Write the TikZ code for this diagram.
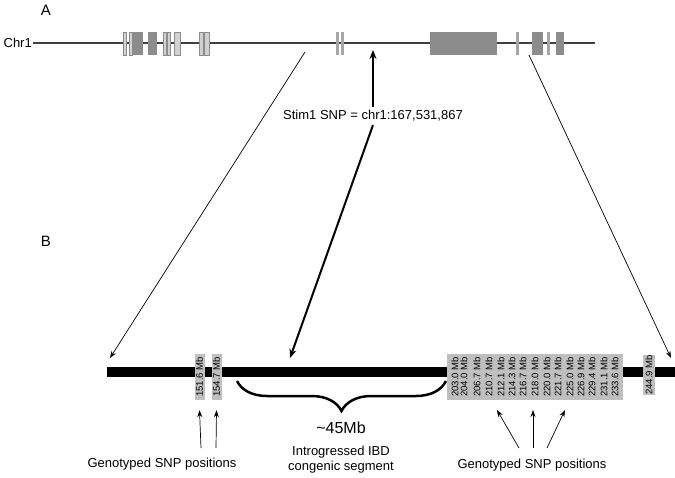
\documentclass[tikz,border=0pt]{standalone}
\usepackage{fontspec}
\setmainfont{Liberation Sans}
\usetikzlibrary{arrows.meta,decorations.pathreplacing}

\begin{document}
\begin{tikzpicture}[
    x=1pt, y=-1pt,
    >=Stealth,
    exonL/.style={fill=black!18, draw=black!45, line width=0.5pt},
    exonM/.style={fill=black!35},
    exonD/.style={fill=black!45},
    mbbox/.style={rotate=90, fill=black!25, inner sep=0pt, minimum width=46pt, minimum height=10pt, font=\fontsize{9.5}{10}\selectfont},
    mbtxt/.style={rotate=90, inner sep=0pt, font=\fontsize{9.5}{10}\selectfont},
    lbl/.style={font=\fontsize{13}{15}\selectfont, align=center},
    zoomline/.style={->, line width=0.7pt, >={Stealth[length=7pt,width=5pt]}},
    snparrow/.style={->, line width=2pt, >={Stealth[length=9pt,width=7pt]}}
]
\useasboundingbox (0,0) rectangle (675,477);

% Panel A: chromosome 1 with gene structure
\node[font=\fontsize{15}{17}\selectfont] (pa) at (46,10) {A};
\node[lbl, anchor=east, inner sep=1pt] (chr) at (33,43) {Chr1};
\draw[black!75, line width=1.3pt] (chr.east) -- (595,43);
% exons (left cluster)
\filldraw[exonL] (123,32) rectangle (126,55);
\filldraw[exonL] (129,32) rectangle (132,55);
\fill[exonD] (133,32) rectangle (143,55);
\fill[exonD] (148,32) rectangle (157,55);
\filldraw[exonL] (163,32) rectangle (166,55);
\filldraw[exonL] (167,32) rectangle (170,55);
\filldraw[exonL] (174,32) rectangle (180,55);
\filldraw[exonL] (199,32) rectangle (203,55);
\filldraw[exonL] (204,32) rectangle (209,55);
% exons (middle)
\fill[exonM] (336,32) rectangle (339,55);
\fill[exonM] (341,32) rectangle (344,55);
% exons (right cluster)
\fill[exonD] (430,32) rectangle (497,55);
\fill[exonM] (516,32) rectangle (519,55);
\fill[exonD] (532,32) rectangle (543,55);
\fill[exonM] (547,32) rectangle (550,55);
\fill[exonD] (556,32) rectangle (564,55);

% SNP label
\node[lbl] (snp) at (373,116) {Stim1 SNP = chr1:167,531,867};
\coordinate (snpTop) at (373,50);
\coordinate (snpBot) at (290,358);

% zoom lines
\coordinate (zl0) at (305,52);
\coordinate (zr0) at (529,55);
\coordinate (zl1) at (110,358);
\coordinate (zr1) at (671,358);
\draw[zoomline] (zl0) -- (zl1);
\draw[zoomline] (zr0) -- (zr1);
\draw[snparrow] (snp.north) -- (snpTop);
\draw[snparrow] (snp.south) -- (snpBot);

% Panel B: congenic segment
\node[font=\fontsize{15}{17}\selectfont] (pb) at (46,241) {B};
\node[fill=black, inner sep=0pt, minimum width=568pt, minimum height=10pt, anchor=west] (bar) at (107,372) {};

% single SNP markers
\node[mbbox] (m1) at (199.5,377) {151.6 Mb};
\node[mbbox] (m2) at (216.5,377) {154.7 Mb};
\node[mbbox, minimum width=40pt, minimum height=12pt] (m3) at (649,375) {244.9 Mb};

% SNP cluster
\node[fill=black!25, inner sep=0pt, minimum width=176pt, minimum height=46pt] (clu) at (535,377) {};
\node[mbtxt] (c1) at (455,377) {203.0 Mb};
\node[mbtxt] (c2) at (464,377) {204.0 Mb};
\node[mbtxt] (c3) at (477,377) {206.7 Mb};
\node[mbtxt] (c4) at (489,377) {210.7 Mb};
\node[mbtxt] (c5) at (501,377) {212.1 Mb};
\node[mbtxt] (c6) at (512,377) {214.3 Mb};
\node[mbtxt] (c7) at (523,377) {216.7 Mb};
\node[mbtxt] (c8) at (535,377) {218.0 Mb};
\node[mbtxt] (c9) at (547,377) {220.0 Mb};
\node[mbtxt] (c10) at (558,377) {221.7 Mb};
\node[mbtxt] (c11) at (570,377) {225.0 Mb};
\node[mbtxt] (c12) at (581,377) {226.9 Mb};
\node[mbtxt] (c13) at (592,377) {229.4 Mb};
\node[mbtxt] (c14) at (604,377) {231.1 Mb};
\node[mbtxt] (c15) at (615,377) {233.6 Mb};

% IBD segment brace
\draw[decorate, decoration={brace, mirror, amplitude=30pt}, line width=2.5pt] (237,381) -- (446,381);
\node[font=\fontsize{16}{18}\selectfont] (len) at (341,428) {\textasciitilde45Mb};
\node[lbl] (ibd) at (341,460) {Introgressed IBD\\congenic segment};

% genotyped positions (left)
\node[lbl] (gtL) at (162,464) {Genotyped SNP positions};
\coordinate (tl1) at (201,448);
\coordinate (tl2) at (216,448);
\draw[zoomline] (tl1) -- ([yshift=-10pt]m1.west);
\draw[zoomline] (tl2) -- ([yshift=-10pt]m2.west);

% genotyped positions (right)
\node[lbl] (gtR) at (532,465) {Genotyped SNP positions};
\coordinate (tr1) at (519,448);
\coordinate (tr2) at (533,448);
\coordinate (tr3) at (547,448);
\coordinate (hr1) at (497,410);
\coordinate (hr2) at (533,410);
\coordinate (hr3) at (565,410);
\draw[zoomline] (tr1) -- (hr1);
\draw[zoomline] (tr2) -- (hr2);
\draw[zoomline] (tr3) -- (hr3);
\end{tikzpicture}
\end{document}
